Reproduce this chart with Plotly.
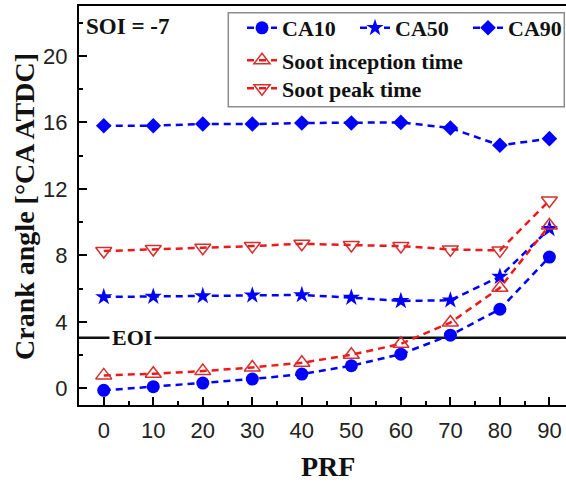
import plotly.graph_objects as go

prf = [0, 10, 20, 30, 40, 50, 60, 70, 80, 90]
ca10 = [-0.12, 0.1, 0.32, 0.56, 0.86, 1.36, 2.06, 3.2, 4.76, 7.9]
ca50 = [5.5, 5.52, 5.56, 5.6, 5.62, 5.46, 5.26, 5.3, 6.72, 9.6]
ca90 = [15.8, 15.8, 15.9, 15.9, 15.96, 15.96, 16.0, 15.66, 14.62, 15.02]
soot_inception = [0.78, 0.88, 1.04, 1.26, 1.54, 2.02, 2.68, 3.96, 6.05, 9.8]
soot_peak = [8.26, 8.38, 8.46, 8.56, 8.7, 8.62, 8.56, 8.36, 8.3, 11.3]
eoi = 3.04
soi_label = "SOI = -7"
x_ticks = [0, 10, 20, 30, 40, 50, 60, 70, 80, 90]
y_ticks = [0, 4, 8, 12, 16, 20]

BLUE = "#0000ff"
RED_LINE = "#f01818"
RED_MK = "#d43030"
SERIF = "Liberation Serif, Times New Roman, serif"
SANS = "Liberation Sans, Arial, sans-serif"
DASH = "7px,5px"

fig = go.Figure()
fig.add_trace(go.Scatter(x=prf, y=ca10, name="CA10", mode="lines+markers",
                         line=dict(color=BLUE, width=2.5, dash=DASH),
                         marker=dict(symbol="circle", size=13, color=BLUE),
                         legend="legend", legendwidth=68))
fig.add_trace(go.Scatter(x=prf, y=ca50, name="CA50", mode="lines+markers",
                         line=dict(color=BLUE, width=2.5, dash=DASH),
                         marker=dict(symbol="star", size=13, color=BLUE),
                         legend="legend", legendwidth=68))
fig.add_trace(go.Scatter(x=prf, y=ca90, name="CA90", mode="lines+markers",
                         line=dict(color=BLUE, width=2.5, dash=DASH),
                         marker=dict(symbol="diamond", size=12, color=BLUE),
                         legend="legend", legendwidth=50))
fig.add_trace(go.Scatter(x=prf, y=soot_inception, name="Soot inception time", mode="lines+markers",
                         line=dict(color=RED_LINE, width=2.5, dash=DASH),
                         marker=dict(symbol="triangle-up-open", size=14, color=RED_MK,
                                     line=dict(width=1.5, color=RED_MK)),
                         legend="legend2"))
fig.add_trace(go.Scatter(x=prf, y=soot_peak, name="Soot peak time", mode="lines+markers",
                         line=dict(color=RED_LINE, width=2.5, dash=DASH),
                         marker=dict(symbol="triangle-down-open", size=14, color=RED_MK,
                                     line=dict(width=1.5, color=RED_MK)),
                         legend="legend3"))

PLOT_L, PLOT_T, PLOT_W, PLOT_H = 79, 6, 487, 399


def px_x(px):
    return (px - PLOT_L) / PLOT_W


def px_y(py):
    return 1 - (py - PLOT_T) / PLOT_H


leg_font = dict(family=SERIF, size=22, color="#111111", weight="bold")
common_leg = dict(font=leg_font, bgcolor="rgba(0,0,0,0)", borderwidth=0,
                  xanchor="left", yanchor="top", itemclick=False)

fig.update_layout(
    width=566, height=483,
    margin=dict(l=PLOT_L, r=0, t=PLOT_T, b=483 - PLOT_T - PLOT_H, autoexpand=False),
    paper_bgcolor="white", plot_bgcolor="white",
    showlegend=True,
    legend=dict(orientation="h", x=px_x(242), y=px_y(7), **common_leg),
    legend2=dict(orientation="v", x=px_x(242), y=px_y(39.5), **common_leg),
    legend3=dict(orientation="v", x=px_x(242), y=px_y(67.5), **common_leg),
    xaxis=dict(range=[-5, 93.35], tickvals=x_ticks, ticks="inside", ticklen=8, tickwidth=2,
               tickcolor="black", showline=True, linewidth=2, linecolor="black", mirror=True,
               showgrid=False, zeroline=False,
               tickfont=dict(family=SANS, size=22, color="#222222"), ticklabelstandoff=5,
               minor=dict(ticks="inside", ticklen=4, tickwidth=2, tickcolor="black",
                          dtick=5, tick0=0, showgrid=False)),
    yaxis=dict(range=[-1, 23], tickvals=y_ticks, ticks="inside", ticklen=8, tickwidth=2,
               tickcolor="black", showline=True, linewidth=2, linecolor="black", mirror=False,
               showgrid=False, zeroline=False,
               tickfont=dict(family=SANS, size=22, color="#222222"), ticklabelstandoff=5,
               minor=dict(ticks="inside", ticklen=4, tickwidth=2, tickcolor="black",
                          dtick=2, tick0=0, showgrid=False)),
)

# legend frame
fig.add_shape(type="rect", xref="paper", yref="paper",
              x0=px_x(228.3), x1=px_x(564.3), y0=px_y(106.7), y1=px_y(12.7),
              line=dict(color="#8c8c8c", width=1.5), fillcolor="white", layer="below")

# EOI line
fig.add_shape(type="line", xref="paper", yref="y", x0=0, x1=1, y0=eoi, y1=eoi,
              line=dict(color="#111111", width=2.5), layer="below")
fig.add_annotation(x=5.8, y=eoi, xref="x", yref="y", text="EOI", showarrow=False,
                   font=dict(family=SERIF, size=22, color="#111111", weight="bold"),
                   bgcolor="white", borderpad=2, xanchor="center", yanchor="middle")

# SOI text
fig.add_annotation(x=px_x(84), y=px_y(27), xref="paper", yref="paper", text=soi_label,
                   showarrow=False, xanchor="left", yanchor="middle",
                   font=dict(family=SERIF, size=23, color="#111111", weight="bold"))

# axis titles
fig.add_annotation(x=px_x(327.8), y=px_y(466), xref="paper", yref="paper", text="PRF",
                   showarrow=False, xanchor="center", yanchor="middle",
                   font=dict(family=SERIF, size=28, color="#111111", weight="bold"))
fig.add_annotation(x=px_x(24), y=px_y(207), xref="paper", yref="paper",
                   text="Crank angle [°CA ATDC]", textangle=-90,
                   showarrow=False, xanchor="center", yanchor="middle",
                   font=dict(family=SERIF, size=28, color="#111111", weight="bold"))

fig.write_html("out.html")
